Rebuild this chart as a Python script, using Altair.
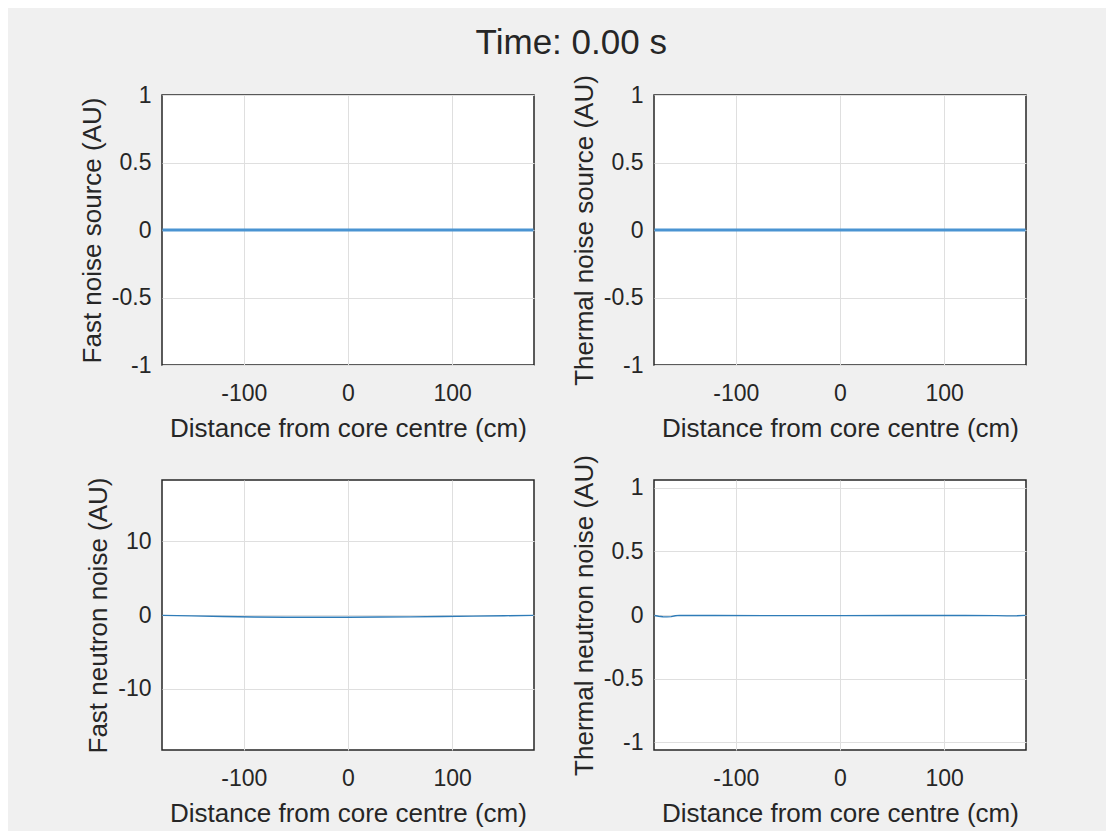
import altair as alt
import pandas as pd

# ---- data ----
x_src = [-178, -120, -60, 0, 60, 120, 178]
fast_src = [0, 0, 0, 0, 0, 0, 0]
thermal_src = [0, 0, 0, 0, 0, 0, 0]

x_fast_noise = [-178, -150, -120, -90, -60, -30, 0, 30, 60, 90, 120, 150, 178]
fast_noise = [-0.05, -0.12, -0.2, -0.27, -0.3, -0.3, -0.3, -0.28, -0.25, -0.2, -0.15, -0.1, -0.05]

x_thermal_noise = [-178, -174, -170, -166, -162, -158, -154, -120, -60, 0, 60, 120, 150, 160, 170, 178]
thermal_noise = [-0.004, -0.010, -0.014, -0.015, -0.013, -0.006, -0.003, -0.004, -0.005,
                 -0.005, -0.004, -0.004, -0.005, -0.007, -0.006, -0.003]

x_ticks = [-100, 0, 100]
y_ticks_unit = [-1, -0.5, 0, 0.5, 1]
y_ticks_fast_noise = [-10, 0, 10]

XDOM = [-178.5, 178.5]
TXT = "#262626"
FONT = "Liberation Sans"


def panel(xs, ys, ytitle, ydom, yticks, lw, color):
    df = pd.DataFrame({"x": xs, "y": ys})
    return (
        alt.Chart(df)
        .mark_line(color=color, strokeWidth=lw, clip=True)
        .encode(
            x=alt.X(
                "x:Q",
                scale=alt.Scale(domain=XDOM, nice=False, zero=False),
                axis=alt.Axis(
                    values=x_ticks,
                    title="Distance from core centre (cm)",
                    labelExpr="'' + datum.value",
                    labelPadding=17,
                    titlePadding=10,
                ),
            ),
            y=alt.Y(
                "y:Q",
                scale=alt.Scale(domain=ydom, nice=False, zero=False),
                axis=alt.Axis(
                    values=yticks,
                    title=ytitle,
                    labelExpr="'' + datum.value",
                    labelPadding=11,
                    titlePadding=6,
                ),
            ),
        )
        .properties(width=372, height=270)
    )


p1 = panel(x_src, fast_src, "Fast noise source (AU)", [-1, 1], y_ticks_unit, 2.8, "#4a94d2")
p2 = panel(x_src, thermal_src, "Thermal noise source (AU)", [-1, 1], y_ticks_unit, 2.8, "#4a94d2")
p3 = panel(x_fast_noise, fast_noise, "Fast neutron noise (AU)", [-18.3, 18.3], y_ticks_fast_noise, 1.4, "#2f7cb8")
p4 = panel(x_thermal_noise, thermal_noise, "Thermal neutron noise (AU)", [-1.06, 1.06], y_ticks_unit, 1.4, "#2f7cb8")

chart = (
    alt.concat(p1, p2, p3, p4, columns=2, spacing={"row": 115, "column": 120}, bounds="flush")
    .properties(
        title=alt.TitleParams(
            "Time: 0.00 s",
            fontSize=35,
            font=FONT,
            fontWeight="normal",
            color=TXT,
            anchor="start",
            dx=397,
            offset=13,
        ),
        background="#f0f0f0",
        padding={"left": 70, "top": 17, "right": 79, "bottom": 4},
    )
    .configure_view(stroke=TXT, strokeWidth=1.5, fill="white")
    .configure_axis(
        domain=False,
        ticks=False,
        grid=True,
        gridColor="#dfdfdf",
        gridWidth=1,
        labelFont=FONT,
        labelFontSize=23,
        labelColor=TXT,
        titleFont=FONT,
        titleFontSize=26,
        titleFontWeight="normal",
        titleColor=TXT,
    )
)

chart.save("out.html", embed_options={"renderer": "svg", "actions": False})
